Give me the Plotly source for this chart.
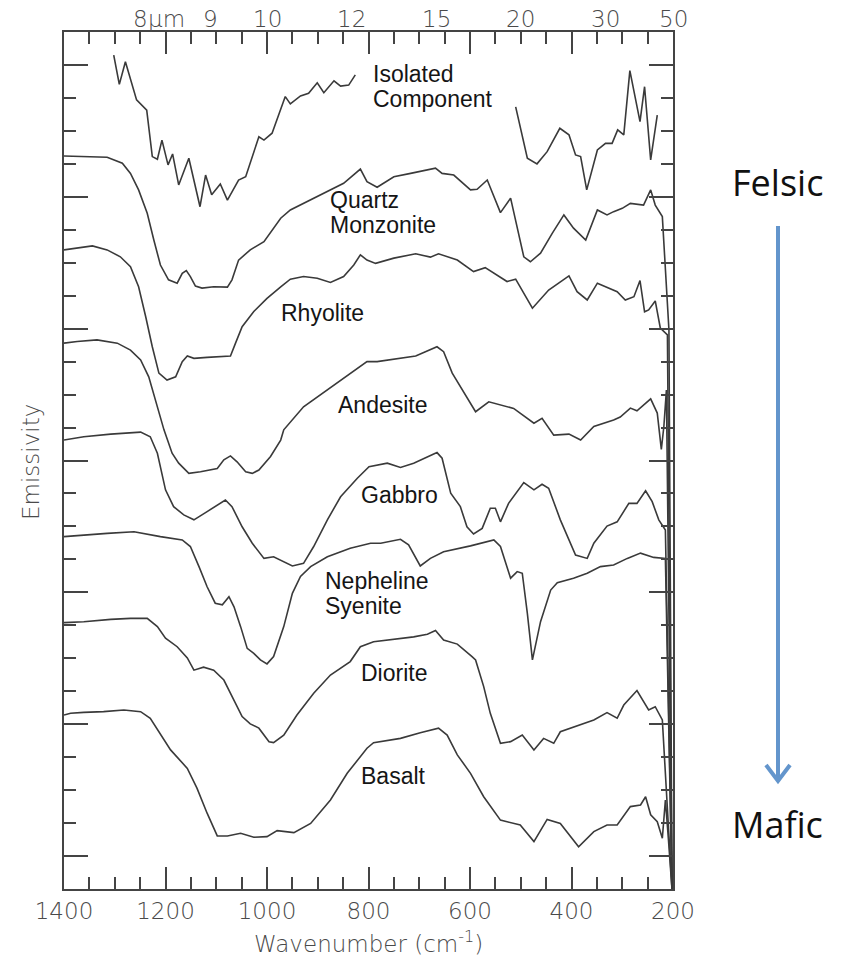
import plotly.graph_objects as go

# ---------------- data (wavenumber cm^-1, emissivity in offset units) ----------------
iso1_wn = [1302,1291,1279,1257,1237,1226,1216,1207,1195,1186,1174,1154,1132,1121,1109,1092,1078,1056,1042,1016,1006,990,964,954,934,918,901,888,868,855,839,826]
iso1_em = [25.30,24.41,25.10,23.94,23.63,22.22,22.14,22.72,21.97,22.30,21.36,22.17,20.70,21.66,21.06,21.39,20.90,21.51,21.61,22.82,22.72,22.93,24.04,23.82,24.06,24.14,24.46,24.16,24.52,24.36,24.39,24.70]

iso2_wn = [510,487,468,448,423,405,392,382,370,349,333,320,309,297,285,265,256,244,231]
iso2_em = [23.73,22.17,22.00,22.37,23.08,22.88,22.27,22.22,21.21,22.42,22.62,22.62,23.03,22.88,24.83,23.28,24.34,22.12,23.48]

qm_wn = [1400,1368,1315,1285,1269,1253,1236,1223,1210,1194,1177,1167,1159,1151,1141,1128,1105,1078,1069,1056,
         1033,1006,990,973,954,928,901,875,849,816,803,783,750,717,691,668,655,632,599,586,
         566,540,520,494,481,461,438,415,396,372,349,330,317,300,284,258,244,235,221,215,208,202]
qm_em = [22.24,22.22,22.20,22.02,21.71,21.21,20.50,19.69,18.93,18.48,18.38,18.68,18.76,18.58,18.29,18.23,18.27,18.26,18.48,19.08,
         19.39,19.64,19.99,20.35,20.60,20.80,21.00,21.21,21.41,21.84,21.46,21.29,21.61,21.71,21.79,21.87,21.71,21.66,21.21,21.23,
         21.51,20.52,20.96,19.18,19.03,19.29,19.89,20.45,20.05,19.69,20.60,20.45,20.55,20.65,20.80,20.75,21.21,20.75,20.40,18.75,16.96,0]

rhy_wn = [1400,1374,1344,1315,1289,1269,1253,1239,1226,1213,1197,1180,1167,1157,1144,1118,1092,1072,1062,1049,
          1026,1000,973,954,928,901,875,849,829,816,803,786,750,707,678,662,625,593,570,527,
          510,477,445,405,389,369,349,310,294,277,265,256,248,235,225,211,202]
rhy_em = [19.39,19.44,19.51,19.39,19.18,18.88,18.27,17.36,16.45,15.65,15.44,15.54,16.00,16.17,16.10,16.13,16.15,16.17,16.56,17.06,
          17.52,17.92,18.27,18.50,18.58,18.53,18.40,18.58,18.93,19.24,19.08,18.98,19.14,19.27,19.17,19.27,19.08,18.73,18.85,18.43,
          18.50,17.62,18.17,18.60,18.12,17.87,18.38,18.12,17.87,17.97,18.46,17.51,17.57,17.84,17.02,16.81,0]

and_wn = [1400,1374,1335,1295,1269,1249,1233,1220,1203,1187,1174,1154,1131,1098,1085,1072,1059,1042,1029,1016,
          993,973,967,928,881,836,803,783,743,707,665,652,635,619,589,563,537,514,474,458,
          435,405,382,356,317,304,284,271,244,231,223,218,213,202]
and_em = [16.56,16.61,16.66,16.56,16.35,16.05,15.54,14.84,13.93,13.22,12.92,12.61,12.66,12.76,13.02,13.14,12.96,12.66,12.61,12.71,
          13.12,13.62,13.93,14.63,15.14,15.65,16.00,16.00,16.10,16.17,16.45,16.30,15.65,15.24,14.48,14.78,14.68,14.58,14.13,14.28,
          13.77,13.80,13.62,14.03,14.23,14.32,14.59,14.51,14.87,14.44,13.34,14.03,15.14,0]

gab_wn = [1400,1361,1308,1249,1230,1216,1200,1184,1164,1144,1118,1082,1069,1049,1029,1006,987,973,950,928,
          908,881,855,822,799,763,737,711,684,665,655,638,619,606,593,576,560,550,540,524,
          494,474,458,445,422,392,369,356,330,310,287,271,254,241,228,215,202]
gab_em = [13.62,13.72,13.80,13.86,13.72,13.22,12.11,11.60,11.35,11.20,11.45,11.80,11.60,10.99,10.49,10.03,10.08,9.98,9.80,9.88,
          10.39,11.20,11.90,12.46,12.81,12.92,12.79,12.92,13.12,13.24,13.07,12.01,11.60,10.99,10.77,10.94,11.55,11.55,11.14,11.70,
          12.33,12.11,12.28,12.16,11.20,10.13,10.03,10.49,11.01,11.14,11.70,11.70,12.08,11.75,11.20,10.89,0]

nep_wn = [1400,1361,1315,1262,1210,1167,1151,1134,1118,1102,1088,1075,1065,1052,1039,1026,1013,1000,987,967,
          950,934,914,881,836,796,776,737,721,698,678,652,599,553,540,520,507,497,487,477,
          461,441,428,396,369,343,317,290,264,238,215,202]
nep_em = [10.69,10.74,10.79,10.84,10.69,10.59,10.39,9.78,9.17,8.67,8.62,8.87,8.56,7.96,7.30,7.15,6.95,6.83,7.05,7.96,
          8.97,9.48,9.78,10.08,10.34,10.49,10.49,10.61,10.44,9.80,10.03,10.23,10.41,10.59,10.39,9.43,9.63,9.58,8.36,6.95,
          8.11,9.07,9.29,9.43,9.58,9.78,9.83,10.03,10.19,10.06,10.03,0]

dio_wn = [1400,1361,1308,1269,1236,1216,1200,1177,1157,1144,1125,1105,1085,1069,1049,1033,1016,996,987,967,
          941,908,875,836,816,790,750,711,684,668,652,625,596,589,573,560,540,520,497,474,
          455,435,422,396,356,330,310,297,271,248,235,221,215,202]
dio_em = [8.08,8.11,8.18,8.21,8.21,7.96,7.61,7.35,7.01,6.64,6.73,6.64,6.34,5.83,5.23,5.01,4.88,4.47,4.44,4.67,
          5.28,5.94,6.49,6.90,7.35,7.50,7.58,7.65,7.73,7.84,7.55,7.43,7.05,6.95,6.14,5.33,4.42,4.47,4.67,4.22,
          4.57,4.42,4.77,4.92,5.13,5.35,5.18,5.58,6.02,5.43,5.53,5.13,3.41,0]

bas_wn = [1400,1387,1361,1322,1282,1249,1230,1210,1190,1157,1138,1118,1098,1078,1052,1026,1000,980,947,914,
          875,842,803,790,737,698,662,645,625,599,573,540,501,474,448,422,386,356,330,310,
          284,264,254,244,231,221,215,209,202]
bas_em = [5.28,5.33,5.36,5.38,5.43,5.38,5.18,4.72,4.22,3.66,3.06,2.30,1.61,1.61,1.69,1.57,1.59,1.77,1.71,1.99,
          2.70,3.51,4.27,4.44,4.57,4.74,4.88,4.67,4.07,3.51,2.80,2.09,1.94,1.44,2.11,1.99,1.28,1.74,1.94,1.94,
          2.50,2.55,2.80,2.25,2.04,1.54,2.70,1.50,0]

# bottom axis ticks (wavenumber)
x_ticks = [1400, 1200, 1000, 800, 600, 400, 200]

# top axis: wavelength labels (micrometres), placed at wavenumber = 10000 / wavelength
top_um = [8, 9, 10, 12, 15, 20, 30, 50]
top_text = ["8", "9", "10", "12", "15", "20", "30", "50"]

# curve labels: (text, wavenumber of left edge, emissivity of text centre)
labels = [
    ("Isolated", 796, 24.73), ("Component", 796, 23.97),
    ("Quartz", 879, 20.90), ("Monzonite", 879, 20.15),
    ("Rhyolite", 977, 17.49),
    ("Andesite", 865, 14.68),
    ("Gabbro", 819, 11.95),
    ("Nepheline", 889, 9.35), ("Syenite", 889, 8.60),
    ("Diorite", 819, 6.55),
    ("Basalt", 819, 3.43),
]

# ---------------- figure ----------------
W, H = 844, 956
ML, MR, MT, MB = 64, 171, 32, 67
PW = W - ML - MR
PH = H - MT - MB


def px(x):
    return (x - ML) / PW


def py(y):
    return (H - MB - y) / PH


AX = "#444444"
TXT = "#4a4a4a"
TF = dict(family="DejaVu Sans", size=23, color=TXT, weight=300)
LF = dict(family="Liberation Sans", size=23, color="#151515")
LINE = dict(color="#3a3a3a", width=1.6)
ARW = "#6395cc"
MAJ_LEN, MIN_LEN = 22, 12
TW = 2

fig = go.Figure()
series = [
    (iso1_wn, iso1_em), (iso2_wn, iso2_em),
    (qm_wn, qm_em), (rhy_wn, rhy_em), (and_wn, and_em),
    (gab_wn, gab_em), (nep_wn, nep_em), (dio_wn, dio_em),
    (bas_wn, bas_em),
]
for wn, em in series:
    fig.add_trace(go.Scatter(x=wn, y=em, mode="lines", line=LINE,
                             showlegend=False, hoverinfo="skip"))

annotations = []
for text, w, v in labels:
    annotations.append(dict(text=text, x=w, y=v, xref="x", yref="y", xanchor="left",
                            yanchor="middle", showarrow=False, font=LF))

for um, t in zip(top_um, top_text):
    annotations.append(dict(text=t, x=10000.0 / um, y=py(19), xref="x", yref="paper",
                            xanchor="center", yanchor="middle", showarrow=False, font=TF))

annotations += [
    dict(text="μm", x=10000.0 / top_um[0], y=py(19), xref="x", yref="paper", xanchor="left",
         yanchor="middle", xshift=6, showarrow=False, font=TF),
    dict(text="Wavenumber (cm<sup>-1</sup>)", x=0.5, y=py(942), xref="paper", yref="paper",
         xanchor="center", yanchor="middle", showarrow=False, font=TF),
    dict(text="Emissivity", x=px(31), y=py(462), xref="paper", yref="paper", textangle=-90,
         xanchor="center", yanchor="middle", showarrow=False, font=TF),
    dict(text="Felsic", x=px(778), y=py(182), xref="paper", yref="paper", xanchor="center",
         yanchor="middle", showarrow=False, font=dict(family="Open Sans", size=36, color="#111111")),
    dict(text="Mafic", x=px(778), y=py(824), xref="paper", yref="paper", xanchor="center",
         yanchor="middle", showarrow=False, font=dict(family="Open Sans", size=36, color="#111111")),
]

shapes = [
    dict(type="line", xref="paper", yref="paper", x0=px(778), x1=px(778), y0=py(226), y1=py(779),
         line=dict(color=ARW, width=4)),
    dict(type="path", xref="paper", yref="paper",
         path=f"M {px(766)} {py(765)} L {px(778)} {py(781)} L {px(790)} {py(765)}",
         line=dict(color=ARW, width=4)),
]

fig.update_layout(
    width=W, height=H,
    margin=dict(l=ML, r=MR, t=MT, b=MB, pad=0, autoexpand=False),
    paper_bgcolor="white", plot_bgcolor="white",
    showlegend=False,
    xaxis=dict(range=[1400, 200], autorange=False, automargin=False, showline=True,
               linecolor=AX, linewidth=2,
               mirror="ticks", ticks="inside", ticklen=MAJ_LEN, tickwidth=TW, tickcolor=AX,
               tickmode="array", tickvals=x_ticks, ticktext=[str(v) for v in x_ticks],
               minor=dict(ticks="inside", ticklen=MIN_LEN, tickwidth=TW, tickcolor=AX,
                          tickmode="linear", tick0=200, dtick=50),
               showgrid=False, zeroline=False, tickfont=TF),
    yaxis=dict(range=[0, 26], autorange=False, automargin=False, showline=True,
               linecolor=AX, linewidth=2,
               mirror="ticks", ticks="inside", ticklen=24, tickwidth=TW, tickcolor=AX,
               tickmode="array", tickvals=[1, 5, 9, 13, 17, 21, 25], showticklabels=False,
               minor=dict(ticks="inside", ticklen=MIN_LEN, tickwidth=TW, tickcolor=AX,
                          tickmode="linear", tick0=0, dtick=1),
               showgrid=False, zeroline=False),
    annotations=annotations,
    shapes=shapes,
)

fig.write_html("out.html")
